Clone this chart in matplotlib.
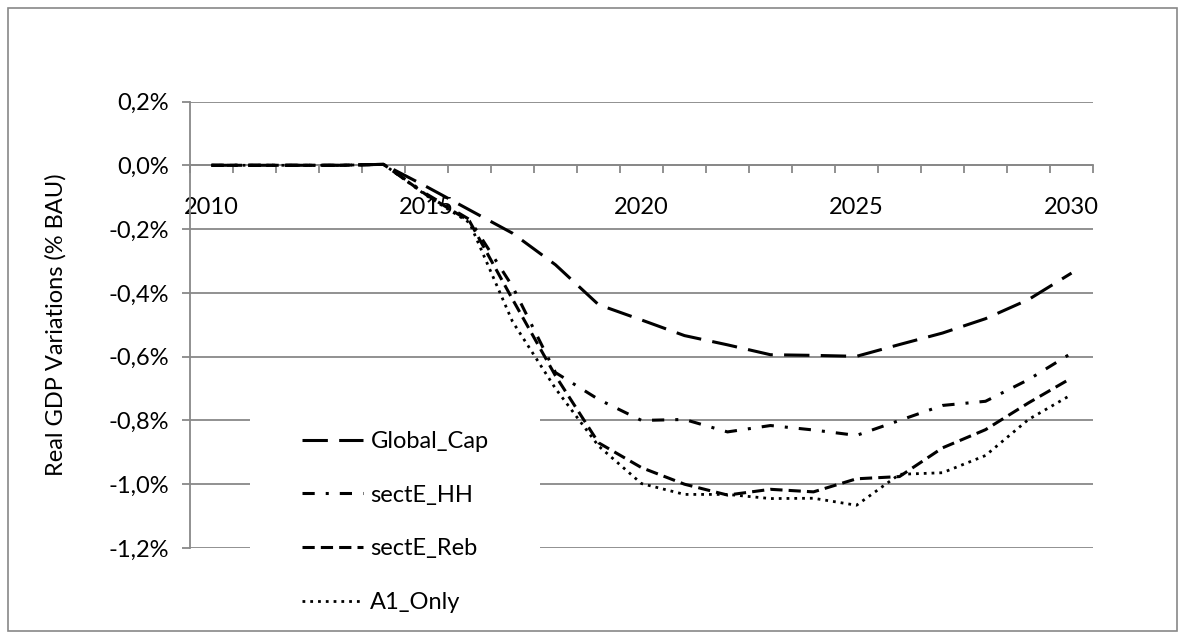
import matplotlib
matplotlib.use('Agg')
import matplotlib.pyplot as plt
from matplotlib.ticker import FuncFormatter
from matplotlib.patches import Rectangle

# Données (variation du PIB réel, % BAU)
years = list(range(2010, 2031))
global_cap = [0, 0, 0, 0, 0.003, -0.067, -0.14, -0.213, -0.312, -0.437, -0.485,
              -0.534, -0.563, -0.594, -0.596, -0.599, -0.562, -0.526, -0.481, -0.421, -0.338]
secte_hh = [0, 0, 0, 0, 0.003, -0.09, -0.17, -0.38, -0.65, -0.734, -0.80,
            -0.797, -0.836, -0.816, -0.83, -0.847, -0.80, -0.753, -0.74, -0.672, -0.589]
secte_reb = [0, 0, 0, 0, 0.003, -0.093, -0.175, -0.42, -0.66, -0.87, -0.948,
             -1.0, -1.034, -1.016, -1.024, -0.983, -0.976, -0.886, -0.829, -0.745, -0.667]
a1_only = [0, 0, 0, 0, 0.003, -0.095, -0.18, -0.49, -0.70, -0.88, -0.998,
           -1.032, -1.032, -1.045, -1.044, -1.066, -0.969, -0.964, -0.91, -0.797, -0.719]
series_names = ['Global_Cap', 'sectE_HH', 'sectE_Reb', 'A1_Only']
y_ticks = [-1.2, -1.0, -0.8, -0.6, -0.4, -0.2, 0.0, 0.2]
label_years = [2010, 2015, 2020, 2025, 2030]

plt.rcParams['font.family'] = ['Lato', 'DejaVu Sans']
fs = 17
grey = '#888888'

fig = plt.figure(figsize=(11.85, 6.39), dpi=100)
ax = fig.add_axes([190 / 1185, 1 - 548 / 639, 903 / 1185, 446.5 / 639])

x = list(range(len(years)))
styles = [
    dict(lw=2.2, dashes=(8.3, 3.7)),
    dict(lw=2.2, dashes=(4, 3.6, 1, 3.6)),
    dict(lw=2.2, dashes=(4, 2)),
    dict(lw=2.0, dashes=(1, 1.8)),
]
for vals, name, st in zip([global_cap, secte_hh, secte_reb, a1_only], series_names, styles):
    ax.plot(x, vals, color='black', label=name, zorder=3, **st)

ax.set_xlim(-0.5, len(years) - 0.5)
ax.set_ylim(-1.2, 0.2)

# axe horizontal à zéro
ax.spines['bottom'].set_position(('data', 0))
for s in ['top', 'right']:
    ax.spines[s].set_visible(False)
for s in ['bottom', 'left']:
    ax.spines[s].set_color(grey)
    ax.spines[s].set_linewidth(1.3)

ax.set_yticks(y_ticks)
ax.yaxis.set_major_formatter(FuncFormatter(lambda v, p: ('%.1f%%' % v).replace('.', ',').replace('-0,0', '0,0')))
ax.tick_params(axis='y', direction='out', length=6, width=1.3, color=grey, labelsize=fs, pad=9)
ax.grid(axis='y', color=grey, linewidth=1.3)
ax.set_axisbelow(True)

# graduations entre catégories, étiquettes tous les 5 ans
ax.set_xticks([i - 0.5 for i in range(len(years) + 1)])
ax.set_xticklabels([])
ax.set_xticks([years.index(y) for y in label_years], minor=True)
ax.set_xticklabels([str(y) for y in label_years], minor=True)
ax.tick_params(axis='x', which='major', direction='out', length=6, width=1.3, color=grey)
ax.tick_params(axis='x', which='minor', length=0, labelsize=fs, pad=23)

ax.set_ylabel('Real GDP Variations (% BAU)', fontsize=fs)
ax.yaxis.set_label_coords(-0.137, 0.5)

leg = ax.legend(loc='center left', bbox_to_anchor=(250 / 1185, 1 - 522 / 639),
                bbox_transform=fig.transFigure, fontsize=fs, frameon=True,
                facecolor='white', edgecolor='none', framealpha=1, fancybox=False,
                handlelength=2.6, handletextpad=0.3, labelspacing=1.38,
                borderpad=2.2, borderaxespad=0)
leg.set_zorder(5)

# cadre du graphique
fig.patches.append(Rectangle((8 / 1185, 8 / 639), 1169 / 1185, 623 / 639,
                             transform=fig.transFigure, fill=False,
                             edgecolor=grey, linewidth=1.2, zorder=10))

fig.savefig('out.png', dpi=100)
